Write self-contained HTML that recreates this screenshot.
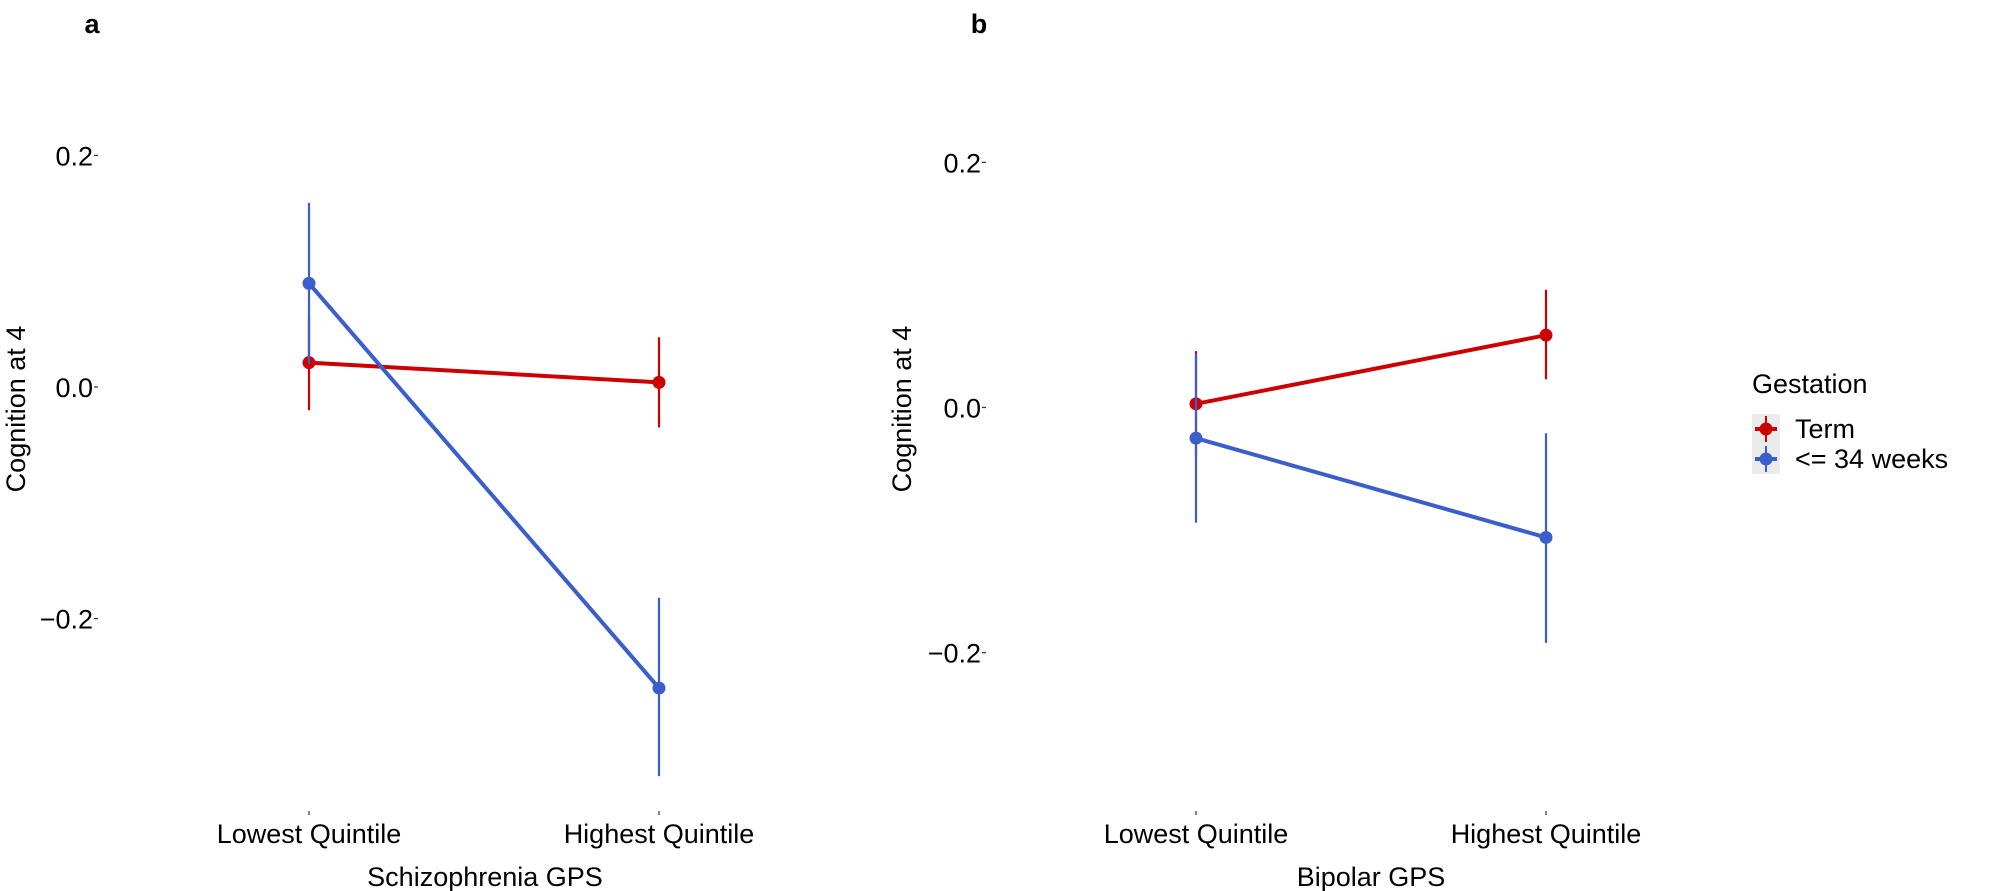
<!DOCTYPE html>
<html><head><meta charset="utf-8"><style>
html,body{margin:0;padding:0;background:#fff;}
svg{display:block;font-family:"Liberation Sans",Arial,sans-serif;}
</style></head><body>
<svg id="chart" width="2002" height="891" viewBox="0 0 2002 891">
<text x="92" y="33" font-size="27" font-weight="bold" text-anchor="middle">a</text>
<text x="979" y="33" font-size="27" font-weight="bold" text-anchor="middle">b</text>
<text transform="translate(25,409) rotate(-90)" font-size="27" text-anchor="middle">Cognition at 4</text>
<text transform="translate(911,409) rotate(-90)" font-size="27" text-anchor="middle">Cognition at 4</text>
<text x="485" y="886" font-size="27" text-anchor="middle">Schizophrenia GPS</text>
<text x="1371" y="886" font-size="27" text-anchor="middle">Bipolar GPS</text>
<g id="legend">
<text x="1752" y="393" font-size="27">Gestation</text>
<g>
<rect x="1752" y="414" width="28" height="30" fill="#ebebeb"/>
<line x1="1755" y1="429" x2="1777" y2="429" stroke="#cc0000" stroke-width="4"/>
<line x1="1766" y1="416" x2="1766" y2="442" stroke="#cc0000" stroke-width="2"/>
<circle cx="1766" cy="429" r="6.5" fill="#cc0000"/>
<text x="1795" y="438" font-size="27">Term</text></g>
<g>
<rect x="1752" y="444" width="28" height="30" fill="#ebebeb"/>
<line x1="1755" y1="459" x2="1777" y2="459" stroke="#3a5fcd" stroke-width="4"/>
<line x1="1766" y1="446" x2="1766" y2="472" stroke="#3a5fcd" stroke-width="2"/>
<circle cx="1766" cy="459" r="6.5" fill="#3a5fcd"/>
<text x="1795" y="468" font-size="27">&lt;= 34 weeks</text></g>
</g>
</svg>
<script>
const categories = ["Lowest Quintile","Highest Quintile"];
const yTicks = [0.2, 0.0, -0.2];
const yTickLabels = ["0.2","0.0","\u22120.2"];
const seriesNames = ["Term","<= 34 weeks"];
const aTermMean = [0.021, 0.004];
const aTermLo = [-0.020, -0.035];
const aTermHi = [0.062, 0.043];
const aPreMean = [0.0895, -0.260];
const aPreLo = [0.020, -0.336];
const aPreHi = [0.159, -0.182];
const bTermMean = [0.003, 0.059];
const bTermLo = [-0.040, 0.023];
const bTermHi = [0.046, 0.096];
const bPreMean = [-0.025, -0.106];
const bPreLo = [-0.094, -0.192];
const bPreHi = [0.044, -0.021];

const NS = "http://www.w3.org/2000/svg";
const svg = document.getElementById("chart");
const colors = ["#cc0000", "#3a5fcd"];
function mk(tag, attrs, parent) {
  const el = document.createElementNS(NS, tag);
  for (const k in attrs) el.setAttribute(k, attrs[k]);
  (parent || svg).appendChild(el);
  return el;
}
function panel(id, xs, y0px, pxPerUnit, tickRight, series) {
  const yScale = v => y0px - v * pxPerUnit;
  const xScale = i => xs[i];
  const g = mk("g", {});
  
  
  yTicks.forEach((t, i) => {
    const tk = mk("line", {x1: tickRight, x2: tickRight + 4, y1: yScale(t), y2: yScale(t), stroke: "#333", "stroke-width": 1.2}, g);
    
    
    const tl = mk("text", {x: tickRight - 1, y: yScale(t) + 10, "font-size": 27, "text-anchor": "end"}, g);
    tl.textContent = yTickLabels[i];
    
    
  });
  categories.forEach((c, i) => {
    const tk = mk("line", {x1: xScale(i), x2: xScale(i), y1: 811, y2: 815, stroke: "#333", "stroke-width": 1.2}, g);
    
    
    const tl = mk("text", {x: xScale(i), y: 843, "font-size": 27, "text-anchor": "middle"}, g);
    tl.textContent = c;
    
    
  });
  series.forEach((s, si) => {
    const col = colors[si];
    s.mean.forEach((m, i) => {
      const eb = mk("line", {x1: xScale(i), x2: xScale(i), y1: yScale(s.lo[i]), y2: yScale(s.hi[i]), stroke: col, "stroke-width": 2.2}, g);
      
      
    });
    const pts = s.mean.map((m, i) => xScale(i) + "," + yScale(m)).join(" ");
    const ln = mk("polyline", {points: pts, fill: "none", stroke: col, "stroke-width": 4}, g);
    
    
    s.mean.forEach((m, i) => {
      const pt = mk("circle", {cx: xScale(i), cy: yScale(m), r: 6.5, fill: col}, g);
      
      
    });
  });
}
panel("a", [309, 659], 387, 1158, 94,
  [{mean: aTermMean, lo: aTermLo, hi: aTermHi}, {mean: aPreMean, lo: aPreLo, hi: aPreHi}]);
panel("b", [1196, 1546], 407.5, 1226, 982,
  [{mean: bTermMean, lo: bTermLo, hi: bTermHi}, {mean: bPreMean, lo: bPreLo, hi: bPreHi}]);
</script>
</body></html>
